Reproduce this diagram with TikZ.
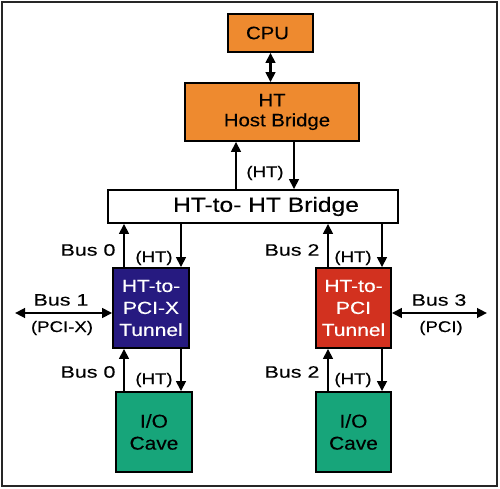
\documentclass[tikz,border=0pt]{standalone}
\usepackage{fontspec}
\setmainfont{Liberation Sans}
\newfontfamily\fontA[FakeStretch=1.13,FakeBold=0.3]{Liberation Sans}
\newfontfamily\fontB[FakeStretch=1.2,FakeBold=0.3]{Liberation Sans}
\newfontfamily\fontC[FakeStretch=1.3,FakeBold=0.3]{Liberation Sans}
\usetikzlibrary{arrows.meta}
\definecolor{htorange}{HTML}{EE8A2F}
\definecolor{htblue}{HTML}{261A80}
\definecolor{htred}{HTML}{D2311F}
\definecolor{htgreen}{HTML}{17A57A}
\tikzset{
  box/.style={draw=black, line width=1.6pt, inner sep=0pt, align=center},
  orangebox/.style={box, fill=htorange, text=black},
  tunnelbox/.style={box, text=white, minimum width=76pt, minimum height=80pt, font=\fontB\fontsize{17.5}{22}\selectfont},
  cavebox/.style={box, fill=htgreen, text=black, minimum width=76pt, minimum height=80pt, font=\fontA\fontsize{18.5}{22}\selectfont},
  arr/.style={line width=2.6pt, -{Triangle[length=10pt,width=9.5pt]}},
  darr/.style={line width=2.6pt, {Triangle[length=10pt,width=9.5pt]}-{Triangle[length=10pt,width=9.5pt]}},
  buslbl/.style={font=\fontC\fontsize{16.5}{18}\selectfont, inner sep=0pt},
  htlbl/.style={font=\fontB\fontsize{15.5}{17}\selectfont, inner sep=0pt}
}
\begin{document}
\begin{tikzpicture}[x=1pt,y=-1pt]
\useasboundingbox (0,0) rectangle (500,489);
\draw[line width=1.8pt, draw=black!85] (2,2) rectangle (497,486);
% boxes
\node[orangebox, minimum width=85pt, minimum height=38pt, font=\fontA\fontsize{18}{20}\selectfont] (cpu) at (270.5,33) {CPU\hspace*{6pt}};
\node[orangebox, minimum width=174pt, minimum height=58pt, font=\fontA\fontsize{18}{20}\selectfont] (hb) at (272,112) {HT\\\hspace*{10pt}Host Bridge};
\node[box, fill=white, minimum width=290pt, minimum height=33pt, font=\fontB\fontsize{20.5}{22}\selectfont] (br) at (253,206.5) {\hspace*{26pt}HT-to- HT Bridge};
\node[tunnelbox, fill=htblue] (tl) at (151,308) {HT-to-\\PCI-X\\Tunnel};
\node[tunnelbox, fill=htred, minimum width=75pt] (tr) at (353.5,308) {HT-to-\\PCI\\Tunnel};
\node[cavebox] (cl) at (154,432) {I/O\\Cave};
\node[cavebox, minimum width=75pt] (cr) at (353.5,432) {I/O\\Cave};
% free ends
\coordinate (bus1end) at (15,313);
\coordinate (bus3end) at (487,313);
% connectors
\draw[darr] (cpu.south) -- (cpu.south |- hb.north);
\draw[arr] ([xshift=-17pt]br.north) -- ([xshift=-36pt]hb.south);
\draw[arr] ([xshift=22pt]hb.south) -- ([xshift=41pt]br.north);
\draw[arr] ([xshift=-27pt]tl.north) -- ([xshift=-129pt]br.south);
\draw[arr] ([xshift=-72pt]br.south) -- ([xshift=30pt]tl.north);
\draw[arr] ([xshift=-30pt]cl.north) -- ([xshift=-27pt]tl.south);
\draw[arr] ([xshift=30pt]tl.south) -- ([xshift=27pt]cl.north);
\draw[arr] ([xshift=-25.5pt]tr.north) -- ([xshift=75pt]br.south);
\draw[arr] ([xshift=129pt]br.south) -- ([xshift=28.5pt]tr.north);
\draw[arr] ([xshift=-25.5pt]cr.north) -- ([xshift=-25.5pt]tr.south);
\draw[arr] ([xshift=28.5pt]tr.south) -- ([xshift=28.5pt]cr.north);
\draw[darr] ([yshift=-5pt]tl.west) -- (bus1end);
\draw[darr] ([yshift=-5pt]tr.east) -- (bus3end);
% labels
\node[htlbl] (lht0) at (265,173) {(HT)};
\node[buslbl] (lb0a) at (88,250) {Bus 0};
\node[htlbl] (lht1) at (154,258) {(HT)};
\node[buslbl] (lb1) at (61,300) {Bus 1};
\node[htlbl] (lpcix) at (62,328) {(PCI-X)};
\node[buslbl] (lb0b) at (88,372) {Bus 0};
\node[htlbl] (lht2) at (154,380) {(HT)};
\node[buslbl] (lb2a) at (292,250) {Bus 2};
\node[htlbl] (lht3) at (353,258) {(HT)};
\node[buslbl] (lb3) at (439,300) {Bus 3};
\node[htlbl] (lpci) at (441,328) {(PCI)};
\node[buslbl] (lb2b) at (292,372) {Bus 2};
\node[htlbl] (lht4) at (353,380) {(HT)};
\end{tikzpicture}
\end{document}
